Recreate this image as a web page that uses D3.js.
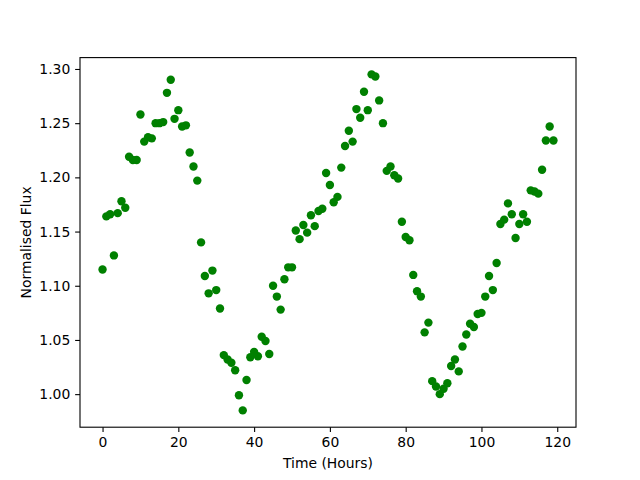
<!DOCTYPE html>
<html>
<head>
<meta charset="utf-8">
<script src="https://cdn.jsdelivr.net/npm/d3@7"></script>
<style>
  body { margin: 0; background: #fff; }
  svg { display: block; font-family: "DejaVu Sans", sans-serif; }
</style>
</head>
<body>
<svg id="chart" width="640" height="480"></svg>
<script>
// Time in hours (one reading per hour)
const hours = d3.range(0, 120);
// Normalised flux readings
const flux = [
  1.115, 1.164, 1.166, 1.128, 1.167, 1.178, 1.172, 1.219, 1.216, 1.216,
  1.258, 1.233, 1.237, 1.236, 1.250, 1.250, 1.251, 1.278, 1.290, 1.254,
  1.262, 1.247, 1.248, 1.223, 1.210, 1.197, 1.140, 1.109, 1.093, 1.114,
  1.096, 1.079, 1.036, 1.032, 1.029, 1.022, 0.999, 0.985, 1.013, 1.034,
  1.039, 1.035, 1.053, 1.049, 1.037, 1.100, 1.090, 1.078, 1.106, 1.117,
  1.117, 1.151, 1.143, 1.156, 1.149, 1.165, 1.155, 1.169, 1.171, 1.204,
  1.193, 1.177, 1.182, 1.209, 1.229, 1.243, 1.233, 1.263, 1.255, 1.279,
  1.262, 1.295, 1.293, 1.271, 1.250, 1.206, 1.210, 1.202, 1.199, 1.159,
  1.145, 1.142, 1.110, 1.095, 1.090, 1.057, 1.066, 1.012, 1.007, 1.000,
  1.005, 1.010, 1.026, 1.032, 1.021, 1.044, 1.055, 1.065, 1.062, 1.074,
  1.075, 1.090, 1.109, 1.096, 1.121, 1.157, 1.161, 1.176, 1.166, 1.144,
  1.157, 1.166, 1.159, 1.188, 1.187, 1.185, 1.207, 1.234, 1.247, 1.234
];
const xTicks = [0, 20, 40, 60, 80, 100, 120];
const yTicks = [1.00, 1.05, 1.10, 1.15, 1.20, 1.25, 1.30];

const data = hours.map((h, i) => ({ t: h, f: flux[i] }));

const svg = d3.select("#chart");
const L = 80, R = 576, T = 57.6, B = 427.2;

function padded(ext) {
  const p = (ext[1] - ext[0]) * 0.05;
  return [ext[0] - p, ext[1] + p];
}
const x = d3.scaleLinear().domain(padded(d3.extent(hours))).range([L, R]);
const y = d3.scaleLinear().domain(padded(d3.extent(flux))).range([B, T]);

const tickLen = 4.86, tickPad = 4.86;

const gx = svg.append("g").attr("transform", `translate(0,${B})`)
  .call(d3.axisBottom(x).tickValues(xTicks).tickFormat(d3.format("d"))
    .tickSize(tickLen).tickPadding(tickPad).tickSizeOuter(0));
const gy = svg.append("g").attr("transform", `translate(${L},0)`)
  .call(d3.axisLeft(y).tickValues(yTicks).tickFormat(d3.format(".2f"))
    .tickSize(tickLen).tickPadding(tickPad).tickSizeOuter(0));

[gx, gy].forEach(g => {
  g.select(".domain").remove();
  g.selectAll(".tick line").attr("stroke", "#000").attr("stroke-width", 1.1);
  g.selectAll(".tick text").attr("fill", "#000")
    .style("font-family", "'DejaVu Sans', sans-serif").style("font-size", "13.9px");
});

svg.append("g").selectAll("circle").data(data).join("circle")
  .attr("cx", d => x(d.t))
  .attr("cy", d => y(d.f))
  .attr("r", 4.2)
  .attr("fill", "#008000");

svg.append("rect")
  .attr("x", L).attr("y", T).attr("width", R - L).attr("height", B - T)
  .attr("fill", "none").attr("stroke", "#000").attr("stroke-width", 1.1);

svg.append("text")
  .attr("x", (L + R) / 2).attr("y", 468)
  .attr("text-anchor", "middle").attr("font-size", "13.9px").attr("fill", "#000")
  .text("Time (Hours)");

svg.append("text")
  .attr("transform", `translate(31,${(T + B) / 2}) rotate(-90)`)
  .attr("text-anchor", "middle").attr("font-size", "13.9px").attr("fill", "#000")
  .text("Normalised Flux");
</script>
</body>
</html>
